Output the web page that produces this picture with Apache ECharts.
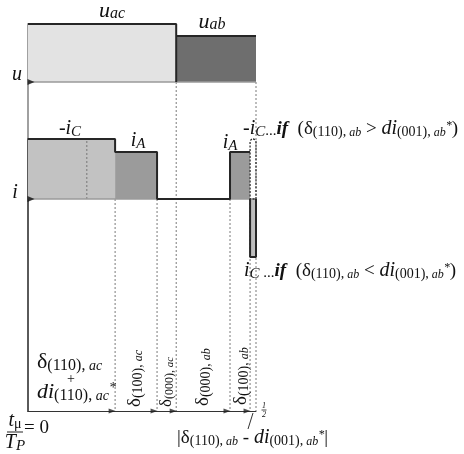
<!DOCTYPE html>
<html><head><meta charset="utf-8">
<script src="https://cdn.jsdelivr.net/npm/echarts@6/dist/echarts.min.js"></script>
<style>html,body{margin:0;padding:0;background:#fff}#c{width:464px;height:454px}</style>
</head><body><div id="c"></div>
<script>
// ---- data (time in units of t/T_P, half period 0..1/2) ----
const tEdges = [0, 0.191, 0.283, 0.325, 0.443, 0.487, 0.5];
const tSplit = 0.129;                    // dashed split inside the -iC interval
// voltage u: segments [start, end, level]
const uSegs = [[tEdges[0], tEdges[3], 1.0], [tEdges[3], tEdges[6], 0.793]];
const uNames = ['u_ac', 'u_ab'];
// current i: segments [start, end, level]
const iSegs = [
  [tEdges[0], tEdges[1], 1.0],    // -iC
  [tEdges[1], tEdges[2], 0.783],  // iA
  [tEdges[2], tEdges[4], 0],      // zero vector
  [tEdges[4], tEdges[5], 0.783],  // iA
  [tEdges[5], tEdges[6], -0.967]  // iC (if delta < di)
];
const iAlt = [[tEdges[5], tEdges[6], 1.0]]; // -iC (if delta > di), dotted
const uDropLines = [tEdges[3], tEdges[6]];
const iDropLines = [tEdges[1], tEdges[2], tEdges[4], tEdges[5]];
const axisArrows = [tEdges[1], tEdges[2], tEdges[3], tEdges[4], tEdges[5]];

// ---- styles ----
const U_MIN = -5.672, I_MIN = -3.533;
const uColors = ['#e3e3e3', '#6e6e6e'];
const iColors = ['#c2c2c2', '#9b9b9b', 'none', '#9b9b9b', '#bdbdbd'];
const F = 'Liberation Serif';
const INK = '#111';

function fillSeries(ax, segs, colors) {
  return {
    type: 'custom', xAxisIndex: ax, yAxisIndex: ax, z: 3, silent: true, clip: false,
    data: segs,
    renderItem(params, api) {
      const a = api.coord([api.value(0), api.value(2)]);
      const b = api.coord([api.value(1), 0]);
      return {type: 'rect', shape: {x: Math.min(a[0], b[0]), y: Math.min(a[1], b[1]),
        width: Math.abs(b[0] - a[0]), height: Math.abs(b[1] - a[1])},
        style: {fill: colors[params.dataIndex]}};
    }
  };
}
function outline(segs) {
  const pts = [];
  segs.forEach(s => { pts.push([s[0], s[2]]); pts.push([s[1], s[2]]); });
  return pts;
}
function lineS(ax, data, color, width, type, z) {
  return {type: 'line', xAxisIndex: ax, yAxisIndex: ax, data, symbol: 'none', clip: false,
    silent: true, z, lineStyle: {color, width, type}, animation: false};
}
const series = [];
// dotted drop lines
uDropLines.forEach(x => series.push(lineS(0, [[x, 0], [x, U_MIN]], '#7a7a7a', 1, [2, 2], 1)));
iDropLines.forEach(x => series.push(lineS(1, [[x, 0], [x, I_MIN]], '#7a7a7a', 1, [2, 2], 1)));
// fills
series.push(fillSeries(0, uSegs, uColors));
series.push(fillSeries(1, iSegs, iColors));
// inner dashed split
series.push(lineS(1, [[tSplit, 0], [tSplit, iSegs[0][2]]], '#777', 1, [2, 2], 4));
// baselines
series.push(lineS(0, [[0, 0], [tEdges[6], 0]], '#9a9a9a', 1.5, 'solid', 4));
series.push(lineS(1, [[0, 0], [tEdges[6], 0]], '#9a9a9a', 1.5, 'solid', 4));
// outlines
series.push(lineS(0, [[uSegs[0][0], uSegs[0][2]], [uSegs[0][1], uSegs[0][2]], [uSegs[0][1], 0]], '#262626', 2, 'solid', 5));
series.push(lineS(0, [[uSegs[1][0], uSegs[1][2]], [uSegs[1][1], uSegs[1][2]]], '#262626', 2, 'solid', 5));
series.push(lineS(1, outline(iSegs.slice(0, 4)), '#262626', 2, 'solid', 5));
series.push(lineS(1, [[iSegs[4][0], 0], [iSegs[4][0], iSegs[4][2]], [iSegs[4][1], iSegs[4][2]], [iSegs[4][1], 0]], '#262626', 2, 'solid', 5));
// dotted alternative -iC box
series.push({
  type: 'custom', xAxisIndex: 1, yAxisIndex: 1, z: 6, silent: true, clip: false, data: iAlt,
  renderItem(params, api) {
    const a = api.coord([api.value(0), api.value(2)]);
    const b = api.coord([api.value(1), 0]);
    return {type: 'rect', shape: {x: a[0], y: a[1], width: b[0] - a[0], height: b[1] - a[1], r: [3, 3, 0, 0]},
      style: {fill: 'none', stroke: '#333', lineWidth: 1.3, lineDash: [2, 1.5]}};
  }
});
// arrows on the time axis
series.push({type: 'scatter', xAxisIndex: 0, yAxisIndex: 0, clip: false, silent: true, z: 7,
  data: axisArrows.map(x => [x, U_MIN]), symbol: 'triangle', symbolRotate: -90,
  symbolSize: [5, 7], symbolOffset: [-3, 0], itemStyle: {color: '#222'}});
// arrows at the origin of u and i
series.push({type: 'scatter', xAxisIndex: 0, yAxisIndex: 0, clip: false, silent: true, z: 7,
  data: [[0, 0]], symbol: 'triangle', symbolRotate: -90, symbolSize: [6, 7], symbolOffset: [3, 0], itemStyle: {color: '#111'}});
series.push({type: 'scatter', xAxisIndex: 1, yAxisIndex: 1, clip: false, silent: true, z: 7,
  data: [[0, 0]], symbol: 'triangle', symbolRotate: -90, symbolSize: [6, 7], symbolOffset: [3, 0], itemStyle: {color: '#111'}});

const rich = {
  m: {fontFamily: F, fontStyle: 'italic', fontSize: 20, fill: INK},
  r: {fontFamily: F, fontSize: 19, fill: INK},
  b: {fontFamily: F, fontStyle: 'italic', fontWeight: 'bold', fontSize: 19, fill: INK},
  ms: {fontFamily: F, fontStyle: 'italic', fontSize: 15, fill: INK, padding: [6, 0, 0, 0]},
  rs: {fontFamily: F, fontSize: 14, fill: INK, padding: [7, 0, 0, 0]},
  is: {fontFamily: F, fontStyle: 'italic', fontSize: 12, fill: INK, padding: [7, 0, 0, 0]},
  sup: {fontFamily: F, fontStyle: 'italic', fontSize: 12, fill: INK, padding: [0, 0, 7, 0]},
  dots: {fontFamily: F, fontSize: 15, fill: INK, padding: [5, 0, 0, 0]},
  // larger set for the first interval label
  r2: {fontFamily: F, fontSize: 22, fill: INK},
  m2: {fontFamily: F, fontStyle: 'italic', fontSize: 22, fill: INK},
  rs2: {fontFamily: F, fontSize: 16, fill: INK, padding: [8, 0, 0, 0]},
  is2: {fontFamily: F, fontStyle: 'italic', fontSize: 14, fill: INK, padding: [8, 0, 0, 0]},
  sup2: {fontFamily: F, fontStyle: 'italic', fontSize: 14, fill: INK, padding: [0, 0, 8, 0]},
  // smaller set for the narrow interval
  r3: {fontFamily: F, fontSize: 17, fill: INK},
  rs3: {fontFamily: F, fontSize: 12, fill: INK, padding: [6, 0, 0, 0]},
  is3: {fontFamily: F, fontStyle: 'italic', fontSize: 11, fill: INK, padding: [6, 0, 0, 0]},
  big: {fontFamily: F, fontStyle: 'italic', fontSize: 22, fill: INK},
  bs: {fontFamily: F, fontStyle: 'italic', fontSize: 16, fill: INK, padding: [6, 0, 0, 0]},
  bar: {width: 16, height: 1, backgroundColor: '#222'},
  tiny: {fontFamily: F, fontStyle: 'italic', fontSize: 8, fill: INK, lineHeight: 8},
  bar2: {width: 5, height: 1, backgroundColor: '#444'}
};
function txt(x, y, text, opts = {}) {
  return Object.assign({type: 'text', x, y, silent: true, z: 100,
    style: {text, rich, align: opts.align || 'left', verticalAlign: 'middle',
      textAlign: opts.align || 'left', textVerticalAlign: 'middle', fill: INK,
      font: '18px ' + F}}, opts.rotation ? {rotation: opts.rotation} : {});
}
const R = Math.PI / 2;
const graphic = [
  txt(17, 75, '{m|u}', {align: 'center'}),
  txt(15, 193, '{m|i}', {align: 'center'}),
  txt(112, 11, '{big|u}{bs|ac}', {align: 'center'}),
  txt(212, 22, '{big|u}{bs|ab}', {align: 'center'}),
  txt(70, 129, '{m|-i}{ms|C}', {align: 'center'}),
  txt(138, 141, '{m|i}{ms|A}', {align: 'center'}),
  txt(230, 143, '{m|i}{ms|A}', {align: 'center'}),
  txt(243, 129, '{m|-i}{ms|C}{dots|...}{b|if}{r|  (δ}{rs|(110),}{is| ab}{r| > }{m|di}{rs|(001),}{is| ab}{sup|*}{r|)}'),
  txt(244, 271, '{m|i}{ms|C}{dots| ...}{b|if}{r|  (δ}{rs|(110),}{is| ab}{r| < }{m|di}{rs|(001),}{is| ab}{sup|*}{r|)}'),
  txt(37, 362, '{r2|δ}{rs2|(110),}{is2| ac}'),
  txt(71, 376, '{rs|+}', {align: 'center'}),
  txt(37, 392, '{m2|di}{rs2|(110),}{is2| ac}{sup2|*}'),
  txt(135, 407, '{r|δ}{rs|(100),}{is| ac}', {rotation: R}),
  txt(167, 407, '{r3|δ}{rs3|(000),}{is3| ac}', {rotation: R}),
  txt(203, 406, '{r|δ}{rs|(000),}{is| ab}', {rotation: R}),
  txt(241, 405, '{r|δ}{rs|(100),}{is| ab}', {rotation: R}),
  txt(15, 432, '{m|t}{rs|μ}\n{bar|}\n{m|T}{ms|P}', {align: 'center'}),
  txt(24, 428, '{r|= 0}'),
  txt(264, 410, '{tiny|1}\n{bar2|}\n{tiny|2}', {align: 'center'}),
  txt(177, 438, '{r||δ}{rs|(110),}{is| ab}{r| - }{m|di}{rs|(001),}{is| ab}{sup|*}{r||}'),
  {type: 'line', silent: true, shape: {x1: 253, y1: 413, x2: 248, y2: 429}, style: {stroke: '#333', lineWidth: 1}}
];

const hidden = {show: false};
const option = {
  animation: false,
  backgroundColor: '#fff',
  grid: [
    {left: 28, top: 24, width: 228, height: 387},
    {left: 28, top: 139, width: 228, height: 272}
  ],
  xAxis: [
    {gridIndex: 0, type: 'value', min: 0, max: 0.5,
      axisLine: {show: true, onZero: false, lineStyle: {color: '#333', width: 1}},
      axisTick: hidden, axisLabel: hidden, splitLine: hidden},
    {gridIndex: 1, type: 'value', min: 0, max: 0.5, show: false}
  ],
  yAxis: [
    {gridIndex: 0, type: 'value', min: U_MIN, max: 1,
      axisLine: {show: true, onZero: false, lineStyle: {color: '#a0a0a0', width: 2}},
      axisTick: hidden, axisLabel: hidden, splitLine: hidden},
    {gridIndex: 1, type: 'value', min: I_MIN, max: 1,
      axisLine: {show: true, onZero: false, lineStyle: {color: '#5a5a5a', width: 2}},
      axisTick: hidden, axisLabel: hidden, splitLine: hidden}
  ],
  series,
  graphic
};
const chart = echarts.init(document.getElementById('c'));
chart.setOption(option);
</script>
</body></html>
